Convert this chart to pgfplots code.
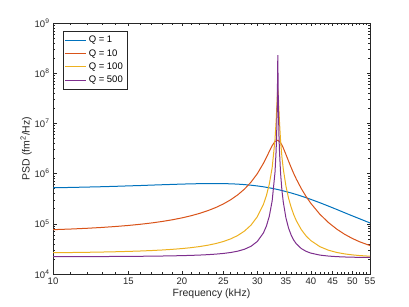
\documentclass[border=0pt]{standalone}
\usepackage{pgfplots}
\pgfplotsset{compat=1.18}
\usepackage{fontspec}
\setmainfont{Liberation Sans}
\definecolor{c1}{rgb}{0,0.447,0.741}
\definecolor{c2}{rgb}{0.85,0.325,0.098}
\definecolor{c3}{rgb}{0.929,0.694,0.125}
\definecolor{c4}{rgb}{0.494,0.184,0.556}
\definecolor{axgray}{rgb}{0.15,0.15,0.15}
\begin{document}
\begin{tikzpicture}
\begin{axis}[
  scale only axis, width=317pt, height=251pt,
  xmode=log, ymode=log,
  xmin=10, xmax=55, ymin=1e4, ymax=1e9,
  xtick={10,15,20,25,30,35,40,45,50,55},
  xticklabels={10,15,20,25,30,35,40,45,50,55},
  minor xtick={11,12,13,14,16,17,18,19,21,22,23,24,26,27,28,29,31,32,33,34,36,37,38,39,41,42,43,44,46,47,48,49,51,52,53,54},
  ytick={1e4,1e5,1e6,1e7,1e8,1e9},
  yticklabels={10\textsuperscript{4},10\textsuperscript{5},10\textsuperscript{6},10\textsuperscript{7},10\textsuperscript{8},10\textsuperscript{9}},
  minor ytick={2e4,3e4,4e4,5e4,6e4,7e4,8e4,9e4,2e5,3e5,4e5,5e5,6e5,7e5,8e5,9e5,2e6,3e6,4e6,5e6,6e6,7e6,8e6,9e6,2e7,3e7,4e7,5e7,6e7,7e7,8e7,9e7,2e8,3e8,4e8,5e8,6e8,7e8,8e8,9e8},
  major tick length=3.5pt, minor tick length=2pt,
  tick style={axgray, line width=0.5pt},
  axis line style={axgray, line width=0.6pt},
  every tick label/.append style={font=\fontsize{9.5}{11}\selectfont, text=axgray},
  xlabel={Frequency (kHz)},
  ylabel={PSD (fm\textsuperscript{2}/Hz)},
  label style={font=\fontsize{10.5}{12}\selectfont, text=axgray},
  xlabel style={yshift=2pt},
  ylabel style={yshift=-4pt},
  /pgf/number format/assume math mode=true,
  legend cell align=left,
  legend style={at={(0,1)}, anchor=north west, xshift=9.5pt, yshift=-8pt,
    font=\fontsize{9.5}{11}\selectfont, draw=axgray, line width=0.5pt,
    inner xsep=2pt, inner ysep=3pt, row sep=1.2pt},
  legend image code/.code={\draw[#1, line width=1pt] (0pt,0pt) -- (21pt,0pt);},
  every axis plot/.append style={line width=1pt},
]
\addplot[c1] coordinates {
(10,5.22e5)(11,5.30e5)(12,5.39e5)(13,5.48e5)(14,5.58e5)(15,5.69e5)(16,5.79e5)(17,5.90e5)(18,6.00e5)(19,6.09e5)(20,6.18e5)(21,6.25e5)(22,6.30e5)(23,6.34e5)(24,6.34e5)(25,6.32e5)(26,6.26e5)(27,6.17e5)(28,6.04e5)(29,5.87e5)(30,5.68e5)(31,5.46e5)(32,5.21e5)(33,4.95e5)(33.5,4.81e5)(34,4.67e5)(35,4.39e5)(36,4.11e5)(37,3.84e5)(38,3.57e5)(39,3.31e5)(40,3.07e5)(42,2.63e5)(44,2.25e5)(46,1.93e5)(48,1.66e5)(50,1.44e5)(52,1.26e5)(55,1.04e5)};
\addlegendentry{Q = 1}
\addplot[c2] coordinates {
(10,7.64e4)(11,7.87e4)(12,8.14e4)(13,8.46e4)(14,8.84e4)(15,9.27e4)(16,9.79e4)(17,1.04e5)(18,1.114e5)(19,1.203e5)(20,1.311e5)(21,1.445e5)(22,1.614e5)(23,1.829e5)(24,2.110e5)(25,2.488e5)(26,3.012e5)(27,3.768e5)(28,4.912e5)(29,6.753e5)(30,9.948e5)(31,1.596e6)(31.5,2.087e6)(32,2.761e6)(32.5,3.595e6)(33,4.368e6)(33.5,4.621e6)(34,4.126e6)(34.25,3.700e6)(34.5,3.243e6)(35,2.405e6)(35.5,1.767e6)(36,1.316e6)(36.5,1.002e6)(37,7.808e5)(38,5.049e5)(39,3.500e5)(40,2.563e5)(42,1.552e5)(44,1.057e5)(46,7.829e4)(48,6.173e4)(50,5.108e4)(52,4.388e4)(55,3.685e4)};
\addlegendentry{Q = 10}
\addplot[c3] coordinates {
(10,2.654e4)(11,2.678e4)(12,2.705e4)(13,2.738e4)(14,2.775e4)(15,2.820e4)(16,2.872e4)(17,2.934e4)(18,3.009e4)(19,3.100e4)(20,3.211e4)(21,3.348e4)(22,3.522e4)(23,3.746e4)(24,4.041e4)(25,4.442e4)(26,5.008e4)(27,5.844e4)(28,7.160e4)(29,9.415e4)(30,1.380e5)(31,2.429e5)(31.5,3.616e5)(32,6.141e5)(32.5,1.316e6)(33,4.739e6)(33.2,1.108e7)(33.3,1.916e7)(33.4,3.412e7)(33.45,4.239e7)(33.5,4.602e7)(33.55,4.213e7)(33.6,3.374e7)(33.7,1.882e7)(33.8,1.083e7)(34,4.588e6)(34.25,2.156e6)(34.5,1.239e6)(35,5.627e5)(35.5,3.230e5)(36,2.120e5)(36.5,1.519e5)(37,1.159e5)(38,7.688e4)(39,5.740e4)(40,4.636e4)(42,3.506e4)(44,2.975e4)(46,2.687e4)(48,2.515e4)(50,2.405e4)(52,2.332e4)(55,2.260e4)};
\addlegendentry{Q = 100}
\addplot[c4] coordinates {
(10,2.211e4)(11,2.216e4)(12,2.221e4)(13,2.228e4)(14,2.235e4)(15,2.244e4)(16,2.254e4)(17,2.267e4)(18,2.282e4)(19,2.300e4)(20,2.322e4)(21,2.350e4)(22,2.384e4)(23,2.429e4)(24,2.488e4)(25,2.569e4)(26,2.682e4)(27,2.849e4)(28,3.113e4)(29,3.565e4)(30,4.446e4)(31,6.556e4)(31.5,8.954e4)(32,1.410e5)(32.5,2.867e5)(33,1.064e6)(33.2,2.880e6)(33.3,6.341e6)(33.4,2.332e7)(33.45,7.150e7)(33.5,2.300e8)(33.55,7.106e7)(33.6,2.312e7)(33.7,6.256e6)(33.8,2.829e6)(34,1.034e6)(34.25,4.688e5)(34.5,2.713e5)(35,1.307e5)(35.5,8.182e4)(36,5.938e4)(36.5,4.727e4)(37,4.003e4)(38,3.219e4)(39,2.829e4)(40,2.608e4)(42,2.381e4)(44,2.275e4)(46,2.217e4)(48,2.183e4)(50,2.161e4)(52,2.146e4)(55,2.132e4)};
\addlegendentry{Q = 500}
\end{axis}
\path (current axis.south west) +(-53pt,-32pt) rectangle +(356pt,274pt);
\end{tikzpicture}
\end{document}
